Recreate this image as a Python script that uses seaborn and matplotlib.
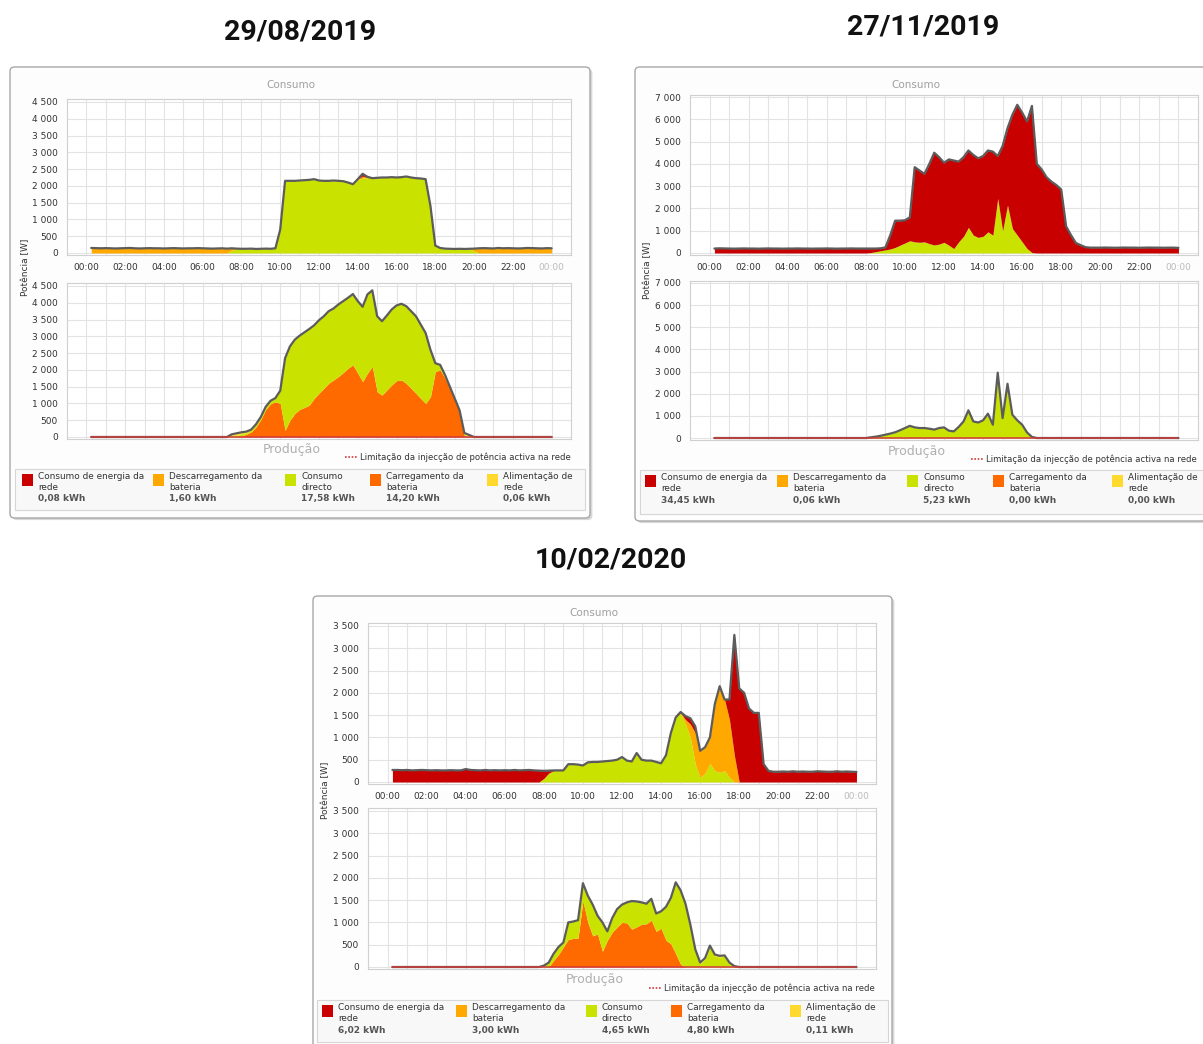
import numpy as np
import pandas as pd
import matplotlib.pyplot as plt
import seaborn as sns
from matplotlib.patches import FancyBboxPatch, Rectangle
from matplotlib.lines import Line2D

sns.set_theme(style='white')
plt.rcParams['font.family'] = ['DejaVu Sans']

W, H = 1203, 1044

# quarter-hour time axis, 00:15 .. 24:00
hours = np.arange(1, 97) * 0.25

# ---------------- 29/08/2019 ----------------
p1_cons_rede = [0] * 56 + [70, 20] + [0] * 38
p1_cons_desc = ([150, 145, 140, 145, 140, 135, 140, 145, 150, 140, 135, 140, 145, 140, 140, 135,
                 140, 145, 140, 135, 140, 140, 145, 140, 135, 130, 135, 140, 130, 60, 0, 0]
                + [0] * 24 + [60] + [0] * 15 + [0] * 7 + [70]
                + [140, 145, 140, 135, 150, 140, 145, 140, 135, 140, 150, 145, 140, 135, 145, 140])
p1_cons_dir = ([0] * 24 + [0, 0, 0, 0, 0, 80, 130, 125]
               + [125, 130, 120, 125, 130, 125, 140, 700]
               + [2150, 2150, 2150, 2160, 2170, 2180, 2200, 2160]
               + [2150, 2150, 2160, 2150, 2140, 2100, 2050, 2200]
               + [2230, 2250, 2230, 2240, 2250, 2250, 2260, 2250]
               + [2260, 2280, 2250, 2230, 2220, 2200, 1400, 220]
               + [150, 130, 125, 120, 125, 120, 125, 60] + [0] * 16)
p1_prod_carr = ([0] * 24 + [0, 0, 0, 0, 0, 0, 0, 30]
                + [80, 150, 300, 520, 820, 990, 1050, 1000]
                + [200, 500, 700, 820, 880, 950, 1150, 1300]
                + [1450, 1600, 1700, 1800, 1920, 2050, 2150, 1900]
                + [1650, 1900, 2100, 1350, 1250, 1400, 1550, 1680]
                + [1700, 1600, 1450, 1300, 1150, 1000, 1200, 1950]
                + [2000, 1750, 1450, 1100, 750, 40, 0, 0] + [0] * 16)
p1_prod_dir = ([0] * 24 + [0, 0, 0, 0, 0, 50, 50, 60]
               + [50, 70, 80, 80, 80, 90, 110, 380]
               + [2150, 2200, 2200, 2200, 2240, 2270, 2180, 2180]
               + [2150, 2150, 2130, 2150, 2130, 2100, 2110, 2150]
               + [2230, 2350, 2270, 2250, 2200, 2220, 2250, 2240]
               + [2270, 2300, 2300, 2300, 2200, 2100, 1400, 250]
               + [150, 100, 50, 50, 50, 40, 20, 0] + [0] * 16)
p1_prod_alim = [0] * 24 + [0, 0, 0, 0, 0, 30, 60, 50] + [30] + [0] * 39 + [0, 0, 0, 0, 0, 40, 40, 0] + [0] * 16
p1_kwh = ['0,08 kWh', '1,60 kWh', '17,58 kWh', '14,20 kWh', '0,06 kWh']

# ---------------- 27/11/2019 ----------------
p2_cons_rede = ([200, 210, 205, 200, 195, 200, 205, 200, 200, 195, 200, 205, 200, 200, 195, 200,
                 200, 205, 200, 200, 195, 200, 200, 205, 200, 195, 200, 200, 205, 200, 200, 200]
                + [180, 140, 110, 110, 620, 1200, 1100, 1020]
                + [1050, 3350, 3220, 3050, 3580, 4140, 3900, 3570]
                + [3850, 3950, 3600, 3550, 3450, 3600, 3550, 3600]
                + [3650, 3750, 1900, 3800, 3450, 5100, 5850, 5800]
                + [5700, 6580, 4000, 3750, 3400, 3200, 3050, 2850]
                + [1200, 800, 450, 350, 260, 240, 240, 240]
                + [245, 240, 235, 240, 245, 240, 240, 235, 240, 245, 240, 240, 235, 240, 240, 230])
p2_cons_desc = [0] * 96
p2_cons_dir = ([0] * 32 + [20, 60, 100, 140, 180, 250, 350, 450]
               + [550, 500, 480, 500, 420, 360, 400, 480]
               + [350, 200, 500, 750, 1150, 800, 700, 750]
               + [950, 800, 2450, 1000, 2150, 1100, 800, 500]
               + [200, 20, 0, 0, 0, 0, 0, 0] + [0] * 24)
p2_prod_carr = [0] * 96
p2_prod_dir = ([0] * 32 + [30, 60, 100, 150, 200, 260, 350, 450]
               + [550, 480, 450, 450, 420, 380, 450, 480]
               + [330, 300, 500, 750, 1250, 750, 700, 800]
               + [1100, 600, 2950, 900, 2450, 1050, 800, 600]
               + [250, 50, 0, 0, 0, 0, 0, 0] + [0] * 24)
p2_prod_alim = [0] * 96
p2_kwh = ['34,45 kWh', '0,06 kWh', '5,23 kWh', '0,00 kWh', '0,00 kWh']

# ---------------- 10/02/2020 ----------------
p3_cons_rede = ([270, 270, 265, 270, 260, 265, 270, 265, 260, 265, 260, 260, 265, 260, 260, 290,
                 270, 265, 260, 270, 260, 265, 260, 265, 260, 270, 260, 265, 270, 260, 255, 170]
                + [55, 5, 0, 0, 0, 0, 0, 0] + [0] * 16
                + [0, 0, 0, 20, 80, 130, 150, 0]
                + [0, 0, 0, 0, 0, 450, 2700, 2100]
                + [2000, 1650, 1550, 1550, 400, 250, 230, 230]
                + [235, 230, 240, 230, 235, 230, 230, 240, 235, 230, 230, 240, 230, 235, 230, 225])
p3_cons_desc = ([0] * 56 + [0, 0, 0, 0, 100, 300, 700, 600]
                + [580, 580, 1500, 1930, 1600, 1300, 600, 0] + [0] * 24)
p3_cons_dir = ([0] * 31 + [80] + [200, 255, 260, 260, 400, 400, 390, 370]
               + [440, 450, 450, 460, 470, 480, 500, 560]
               + [480, 460, 650, 500, 480, 480, 450, 420]
               + [600, 1100, 1450, 1550, 1300, 1000, 400, 100]
               + [200, 420, 250, 220, 250, 100, 0, 0] + [0] * 24)
p3_prod_carr = ([0] * 32 + [0, 150, 280, 450, 620, 640, 650, 1480]
                + [1000, 700, 740, 350, 600, 780, 900, 1000]
                + [990, 850, 900, 960, 970, 1050, 800, 870]
                + [600, 520, 300, 60, 0, 0, 0, 0] + [0] * 32)
p3_prod_dir = ([0] * 31 + [30] + [100, 150, 170, 100, 380, 380, 400, 400]
               + [600, 700, 410, 650, 200, 320, 400, 400]
               + [460, 630, 570, 490, 450, 480, 400, 380]
               + [750, 1030, 1600, 1630, 1380, 910, 360, 70]
               + [180, 450, 250, 220, 260, 100, 20, 0] + [0] * 24)
p3_prod_alim = [0] * 59 + [30, 40, 40, 40, 30] + [20, 30, 30, 30, 0, 0, 0, 0] + [0] * 24
p3_kwh = ['6,02 kWh', '3,00 kWh', '4,65 kWh', '4,80 kWh', '0,11 kWh']

legend_names = ['Consumo de energia da\nrede', 'Descarregamento da\nbateria', 'Consumo\ndirecto',
                'Carregamento da\nbateria', 'Alimentação de\nrede']
c_rede, c_desc, c_dir, c_carr, c_alim = '#C80000', '#FFA800', '#C9E200', '#FF6A00', '#FFD92E'
legend_colors = [c_rede, c_desc, c_dir, c_carr, c_alim]
hour_labels = ['%02d:00' % (h % 24) for h in range(0, 25, 2)]

panels = [
    dict(date='29/08/2019', title=(300, 32), box=(10, 67, 590, 518), cons=(291, 85),
         up=(67, 99, 571, 255), lo=(67, 283, 571, 439), ylim=(-60, 4589), step=500,
         prod=(292, 450), lim=(571, 457), leg=(15, 469, 585, 510),
         items=[22, 153, 285, 370, 487], ylab=(26, 267),
         cons_data=[p1_cons_dir, p1_cons_desc, p1_cons_rede],
         prod_data=[p1_prod_carr, p1_prod_dir, p1_prod_alim], kwh=p1_kwh),
    dict(date='27/11/2019', title=(923, 27), box=(635, 67, 1215, 521), cons=(916, 85),
         up=(690, 95, 1198, 255), lo=(690, 281, 1198, 440), ylim=(-90, 7090), step=1000,
         prod=(917, 452), lim=(1197, 459), leg=(640, 470, 1212, 514),
         items=[645, 777, 907, 993, 1112], ylab=(648, 270),
         cons_data=[p2_cons_dir, p2_cons_desc, p2_cons_rede],
         prod_data=[p2_prod_carr, p2_prod_dir, p2_prod_alim], kwh=p2_kwh),
    dict(date='10/02/2020', title=(611, 560), box=(313, 596, 892, 1052), cons=(594, 613),
         up=(368, 623, 876, 784), lo=(368, 808, 876, 969), ylim=(-45, 3567), step=500,
         prod=(595, 980), lim=(875, 988), leg=(317, 1000, 888, 1042),
         items=[322, 456, 586, 671, 790], ylab=(326, 790),
         cons_data=[p3_cons_dir, p3_cons_desc, p3_cons_rede],
         prod_data=[p3_prod_carr, p3_prod_dir, p3_prod_alim], kwh=p3_kwh),
]


def fx(x):
    return x / W


def fy(y):
    return 1 - y / H


def add_ax(fig, r):
    x0, y0, x1, y1 = r
    ax = fig.add_axes([fx(x0), fy(y1), (x1 - x0) / W, (y1 - y0) / H])
    ax.set_zorder(5)
    return ax


def draw_chart(ax, layers, colors, ylim, step, show_x, zero_line=False):
    ax.set_facecolor('white')
    ax.stackplot(hours, *[np.array(l) for l in layers], colors=colors, linewidth=0, zorder=2)
    total = np.sum(np.array(layers), axis=0)
    df = pd.DataFrame({'h': hours, 'w': total})
    sns.lineplot(data=df, x='h', y='w', ax=ax, color='#5C5C5C', lw=1.6, zorder=3)
    if zero_line:
        ax.plot(hours, np.zeros(len(hours)), color='#D23A3A', lw=1.1, zorder=4)
    ax.set_xlim(-1, 25)
    ax.set_ylim(*ylim)
    ax.set_xticks(range(0, 25, 2))
    ax.set_xticks(range(1, 25, 2), minor=True)
    yt = np.arange(0, ylim[1], step)
    ax.set_yticks(yt)
    ax.set_yticklabels([f'{int(v):,}'.replace(',', ' ') for v in yt], fontsize=6.5, color='#333333')
    if show_x:
        ax.set_xticklabels(hour_labels, fontsize=6.5, color='#333333')
        ax.get_xticklabels()[-1].set_color('#BBBBBB')
    else:
        ax.set_xticklabels([])
    ax.tick_params(axis='both', which='both', length=0)
    ax.tick_params(axis='y', pad=6.5)
    ax.tick_params(axis='x', pad=6)
    ax.grid(True, which='both', axis='x', color='#E3E3E3', lw=0.8, zorder=0)
    ax.grid(True, which='major', axis='y', color='#E3E3E3', lw=0.8, zorder=0)
    ax.set_axisbelow(True)
    ax.set_xlabel('')
    ax.set_ylabel('')
    for s in ax.spines.values():
        s.set_color('#D0D0D0')
        s.set_linewidth(0.8)


fig = plt.figure(figsize=(W / 100, H / 100), dpi=100)
fig.patch.set_facecolor('white')

for p in panels:
    x0, y0, x1, y1 = p['box']
    fig.patches.append(FancyBboxPatch((fx(x0) + 0.002, fy(y1) - 0.002), (x1 - x0) / W, (y1 - y0) / H,
                                      boxstyle='round,pad=0,rounding_size=0.004', transform=fig.transFigure,
                                      facecolor='#D8D8D8', edgecolor='none', zorder=-3))
    fig.patches.append(FancyBboxPatch((fx(x0), fy(y1)), (x1 - x0) / W, (y1 - y0) / H,
                                      boxstyle='round,pad=0,rounding_size=0.004', transform=fig.transFigure,
                                      facecolor='#FDFDFD', edgecolor='#A8A8A8', lw=1, zorder=-2))
    fig.text(fx(p['title'][0]), fy(p['title'][1]), p['date'], fontsize=20.5, fontweight='bold',
             family='Roboto', ha='center', va='center', color='#111111')
    fig.text(fx(p['cons'][0]), fy(p['cons'][1]), 'Consumo', fontsize=7.5, color='#A0A0A0',
             ha='center', va='center')
    fig.text(fx(p['prod'][0]), fy(p['prod'][1]), 'Produção', fontsize=9, color='#B0B0B0',
             ha='center', va='center')
    fig.text(fx(p['ylab'][0]), fy(p['ylab'][1]), 'Potência [W]', fontsize=6.5, rotation=90,
             color='#333333', ha='center', va='center')

    ax_up = add_ax(fig, p['up'])
    draw_chart(ax_up, p['cons_data'], [c_dir, c_desc, c_rede], p['ylim'], p['step'], True)
    ax_lo = add_ax(fig, p['lo'])
    draw_chart(ax_lo, p['prod_data'], [c_carr, c_dir, c_alim], p['ylim'], p['step'], False, zero_line=True)

    # legend line for the injection limit, right-aligned to the plot edge
    lx, ly = p['lim']
    fig.text(fx(lx), fy(ly), 'Limitação da injecção de potência activa na rede', fontsize=6.1,
             color='#333333', ha='right', va='center')
    lstart = lx - 226
    fig.lines.append(Line2D([fx(lstart), fx(lstart + 12)], [fy(ly), fy(ly)], transform=fig.transFigure,
                            color='#D23A3A', lw=1.2, ls=(0, (1, 1))))

    gx0, gy0, gx1, gy1 = p['leg']
    fig.patches.append(Rectangle((fx(gx0), fy(gy1)), (gx1 - gx0) / W, (gy1 - gy0) / H,
                                 transform=fig.transFigure, facecolor='#F8F8F8', edgecolor='#D6D6D6',
                                 lw=0.8, zorder=-1))
    for ix, name, col, val in zip(p['items'], legend_names, legend_colors, p['kwh']):
        fig.patches.append(Rectangle((fx(ix), fy(gy0 + 17)), 11 / W, 12 / H, transform=fig.transFigure,
                                     facecolor=col, edgecolor='none', zorder=1))
        fig.text(fx(ix + 16), fy(gy0 + 3), name, fontsize=6.4, color='#333333', ha='left', va='top',
                 linespacing=1.3)
        fig.text(fx(ix + 16), fy(gy0 + 30), val, fontsize=6.5, color='#555555', fontweight='bold',
                 ha='left', va='center')

fig.savefig('out.png', dpi=100, facecolor='white')
